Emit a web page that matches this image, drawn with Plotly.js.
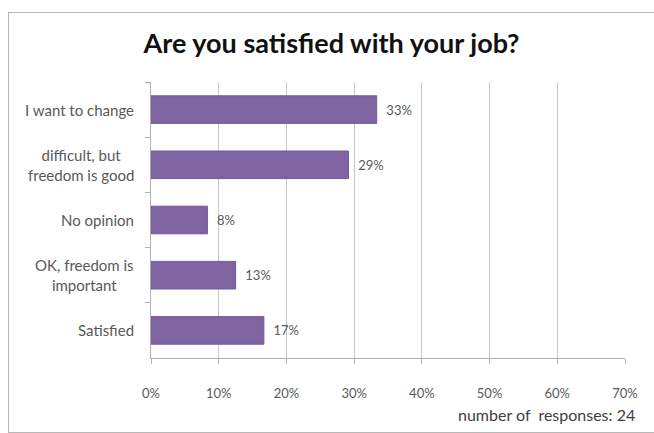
<!DOCTYPE html>
<html>
<head>
<meta charset="utf-8">
<script src="https://cdn.plot.ly/plotly-3.0.1.min.js"></script>
<style>
html,body{margin:0;padding:0;background:#fff;overflow:hidden;}
#wrap{position:relative;width:654px;height:433px;}
#chart{position:absolute;left:0;top:0;width:654px;height:433px;}
#frame{position:absolute;left:8px;top:12px;width:700px;height:421px;border:1px solid #b8b8b8;border-right:none;box-sizing:border-box;pointer-events:none;}
</style>
</head>
<body>
<div id="wrap"><div id="chart"></div><div id="frame"></div></div>
<script>
var categories = ["I want to change", "difficult, but<br>freedom is good", "No opinion", "OK, freedom is<br>important", "Satisfied"];
var values = [0.3333, 0.2917, 0.0833, 0.125, 0.1667];
var valueLabels = ["33%", "29%", "8%", "13%", "17%"];
var xTickVals = [0, 0.1, 0.2, 0.3, 0.4, 0.5, 0.6, 0.7];
var xTickText = ["0%", "10%", "20%", "30%", "40%", "50%", "60%", "70%"];
var titleText = "Are you satisfied with your job?";
var noteText = "number of  responses: 24";

var FONT = "Lato, 'Open Sans', sans-serif";

var trace = {
  type: "bar",
  orientation: "h",
  x: values,
  y: categories,
  text: valueLabels.map(function(t){ return "  " + t; }),
  textposition: "outside",
  cliponaxis: false,
  textfont: {family: FONT, size: 13, color: "#595959"},
  marker: {color: "#8064A2", line: {color: "#7159A0", width: 1}},
  hoverinfo: "none"
};

var annotations = categories.map(function(c){
  return {
    text: c,
    xref: "paper", yref: "y",
    x: -0.032, y: c,
    xanchor: "right", yanchor: "middle",
    align: "center",
    showarrow: false,
    font: {family: FONT, size: 15, color: "#595959"}
  };
});
annotations.push({
  text: noteText,
  xref: "paper", yref: "paper",
  x: 1.025, y: -0.2065, xanchor: "right", yanchor: "middle",
  showarrow: false,
  font: {family: FONT, size: 16, color: "#404040"}
});

var layout = {
  width: 654, height: 433,
  margin: {l: 151, r: 29, t: 82, b: 75},
  paper_bgcolor: "#ffffff",
  plot_bgcolor: "#ffffff",
  showlegend: false,
  bargap: 0.5,
  font: {family: FONT, color: "#595959", size: 13},
  title: {
    text: "<b>" + titleText + "</b>",
    font: {family: FONT, size: 27, color: "#111111"},
    x: 0.507, xanchor: "center", y: 0.9, yanchor: "middle"
  },
  xaxis: {
    range: [0, 0.7],
    tickvals: xTickVals,
    ticktext: xTickText,
    showgrid: true,
    gridcolor: "#c8c8c8",
    gridwidth: 1,
    zeroline: false,
    showline: true,
    linecolor: "#b0b0b0",
    ticks: "outside",
    ticklen: 5,
    tickcolor: "#b0b0b0",
    ticklabelstandoff: 18,
    tickfont: {size: 13, color: "#595959"},
    fixedrange: true
  },
  yaxis: {
    type: "category",
    autorange: "reversed",
    showgrid: false,
    showline: true,
    linecolor: "#b0b0b0",
    ticks: "outside",
    tickson: "boundaries",
    ticklen: 5,
    tickcolor: "#b0b0b0",
    showticklabels: false,
    fixedrange: true
  },
  annotations: annotations
};

Plotly.newPlot("chart", [trace], layout, {displayModeBar: false, staticPlot: true});
</script>
</body>
</html>
